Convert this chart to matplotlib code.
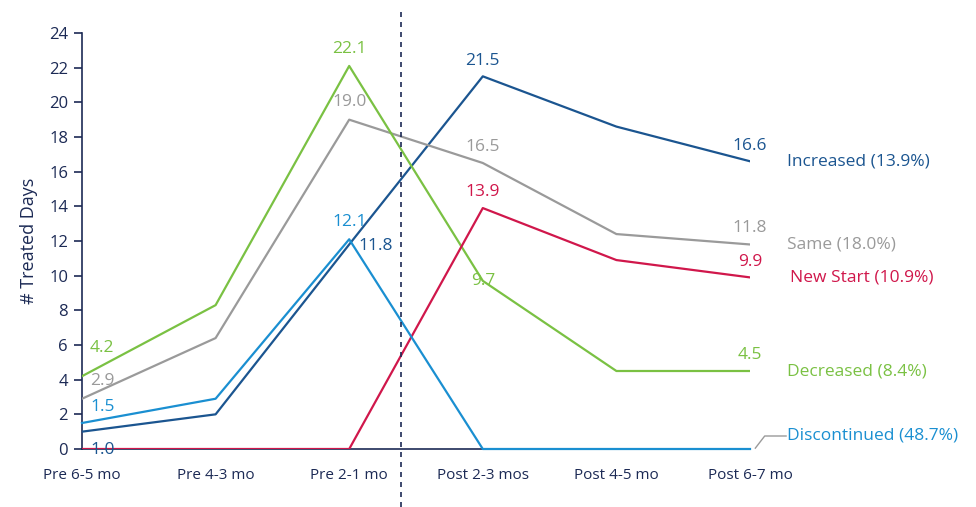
import matplotlib.pyplot as plt

plt.rcParams['font.family'] = ['Open Sans', 'DejaVu Sans']

periods = ["Pre 6-5 mo", "Pre 4-3 mo", "Pre 2-1 mo", "Post 2-3 mos", "Post 4-5 mo", "Post 6-7 mo"]

increased = [1.0, 2.0, 11.8, 21.5, 18.6, 16.6]
same = [2.9, 6.4, 19.0, 16.5, 12.4, 11.8]
new_start = [0, 0, 0, 13.9, 10.9, 9.9]
decreased = [4.2, 8.3, 22.1, 9.7, 4.5, 4.5]
discontinued = [1.5, 2.9, 12.1, 0, 0, 0]

names = ["Increased (13.9%)", "Same (18.0%)", "New Start (10.9%)", "Decreased (8.4%)", "Discontinued (48.7%)"]

navy = "#1c2a55"
c_inc = "#1b5590"
c_same = "#9a9a9a"
c_new = "#d0174b"
c_dec = "#7ac143"
c_dis = "#1a8fd1"

fig = plt.figure(figsize=(9.76, 5.07), dpi=100)
ax = fig.add_axes([82 / 976, 58 / 507, 668 / 976, 416 / 507])

x = list(range(len(periods)))
ax.plot(x, increased, color=c_inc, lw=1.6, zorder=3)
ax.plot(x, same, color=c_same, lw=1.6, zorder=3)
ax.plot(x, decreased, color=c_dec, lw=1.6, zorder=3)
ax.plot(x, new_start, color=c_new, lw=1.6, zorder=4)
ax.plot(x, discontinued, color=c_dis, lw=1.6, zorder=4, clip_on=False)

ax.set_xlim(0, 5)
ax.set_ylim(0, 24)
ax.set_yticks(range(0, 25, 2))
ax.set_xticks(x)
ax.set_xticklabels(periods, fontsize=11, color=navy)
ax.tick_params(axis='x', length=0, pad=14)
ax.tick_params(axis='y', length=6, width=1.2, color=navy, labelcolor=navy, labelsize=12, pad=4)
for s in ["top", "right"]:
    ax.spines[s].set_visible(False)
ax.spines["left"].set_color(navy)
ax.spines["bottom"].set_color(navy)
ax.spines["left"].set_linewidth(1.2)
ax.spines["bottom"].set_linewidth(1.2)
ax.set_ylabel("# Treated Days", fontsize=13, color=navy, labelpad=8)

# pre/post divider
ax.axvline(2.39, ymin=-0.14, ymax=1.06, color=navy, lw=1.2, ls=(0, (3, 3)), clip_on=False, zorder=5)

fs = 12.5
# value labels, left side
ax.text(0.06, decreased[0] + 1.6, "%.1f" % decreased[0], color=c_dec, fontsize=fs, va="center")
ax.text(0.06, same[0] + 1.0, "%.1f" % same[0], color=c_same, fontsize=fs, va="center")
ax.text(0.06, discontinued[0] + 0.9, "%.1f" % discontinued[0], color=c_dis, fontsize=fs, va="center")
ax.text(0.06, increased[0] - 1.05, "%.1f" % increased[0], color=c_inc, fontsize=fs, va="center", zorder=6)

# peaks before index
ax.text(2, decreased[2] + 1.0, "%.1f" % decreased[2], color=c_dec, fontsize=fs, ha="center", va="center")
ax.text(2, same[2] + 1.0, "%.1f" % same[2], color=c_same, fontsize=fs, ha="center", va="center")
ax.text(2, discontinued[2] + 1.0, "%.1f" % discontinued[2], color=c_dis, fontsize=fs, ha="center", va="center")
ax.text(2.07, increased[2] - 0.1, "%.1f" % increased[2], color=c_inc, fontsize=fs, ha="left", va="center")

# after index
ax.text(3, increased[3] + 0.9, "%.1f" % increased[3], color=c_inc, fontsize=fs, ha="center", va="center")
ax.text(3, same[3] + 0.9, "%.1f" % same[3], color=c_same, fontsize=fs, ha="center", va="center")
ax.text(3, new_start[3] + 0.9, "%.1f" % new_start[3], color=c_new, fontsize=fs, ha="center", va="center")
ax.text(3, decreased[3] + 0.0, "%.1f" % decreased[3], color=c_dec, fontsize=fs, ha="center", va="center")

# last values
ax.text(5, increased[5] + 0.9, "%.1f" % increased[5], color=c_inc, fontsize=fs, ha="center", va="center")
ax.text(5, same[5] + 0.95, "%.1f" % same[5], color=c_same, fontsize=fs, ha="center", va="center")
ax.text(5, new_start[5] + 0.9, "%.1f" % new_start[5], color=c_new, fontsize=fs, ha="center", va="center")
ax.text(5, decreased[5] + 0.95, "%.1f" % decreased[5], color=c_dec, fontsize=fs, ha="center", va="center")

# series names
ends = [increased[5], same[5], new_start[5], decreased[5]]
cols = [c_inc, c_same, c_new, c_dec]
offs = [0.28, 0.28, 0.30, 0.28]
for nm, yv, c, o in zip(names[:4], ends, cols, offs):
    ax.text(5 + o, yv, nm, color=c, fontsize=fs, ha="left", va="center", clip_on=False)
ax.plot([5.04, 5.11, 5.27], [0.05, 0.75, 0.75], color=c_same, lw=1, clip_on=False)
ax.text(5.28, 0.75, names[4], color=c_dis, fontsize=fs, ha="left", va="center", clip_on=False)

fig.savefig("out.png", dpi=100)
